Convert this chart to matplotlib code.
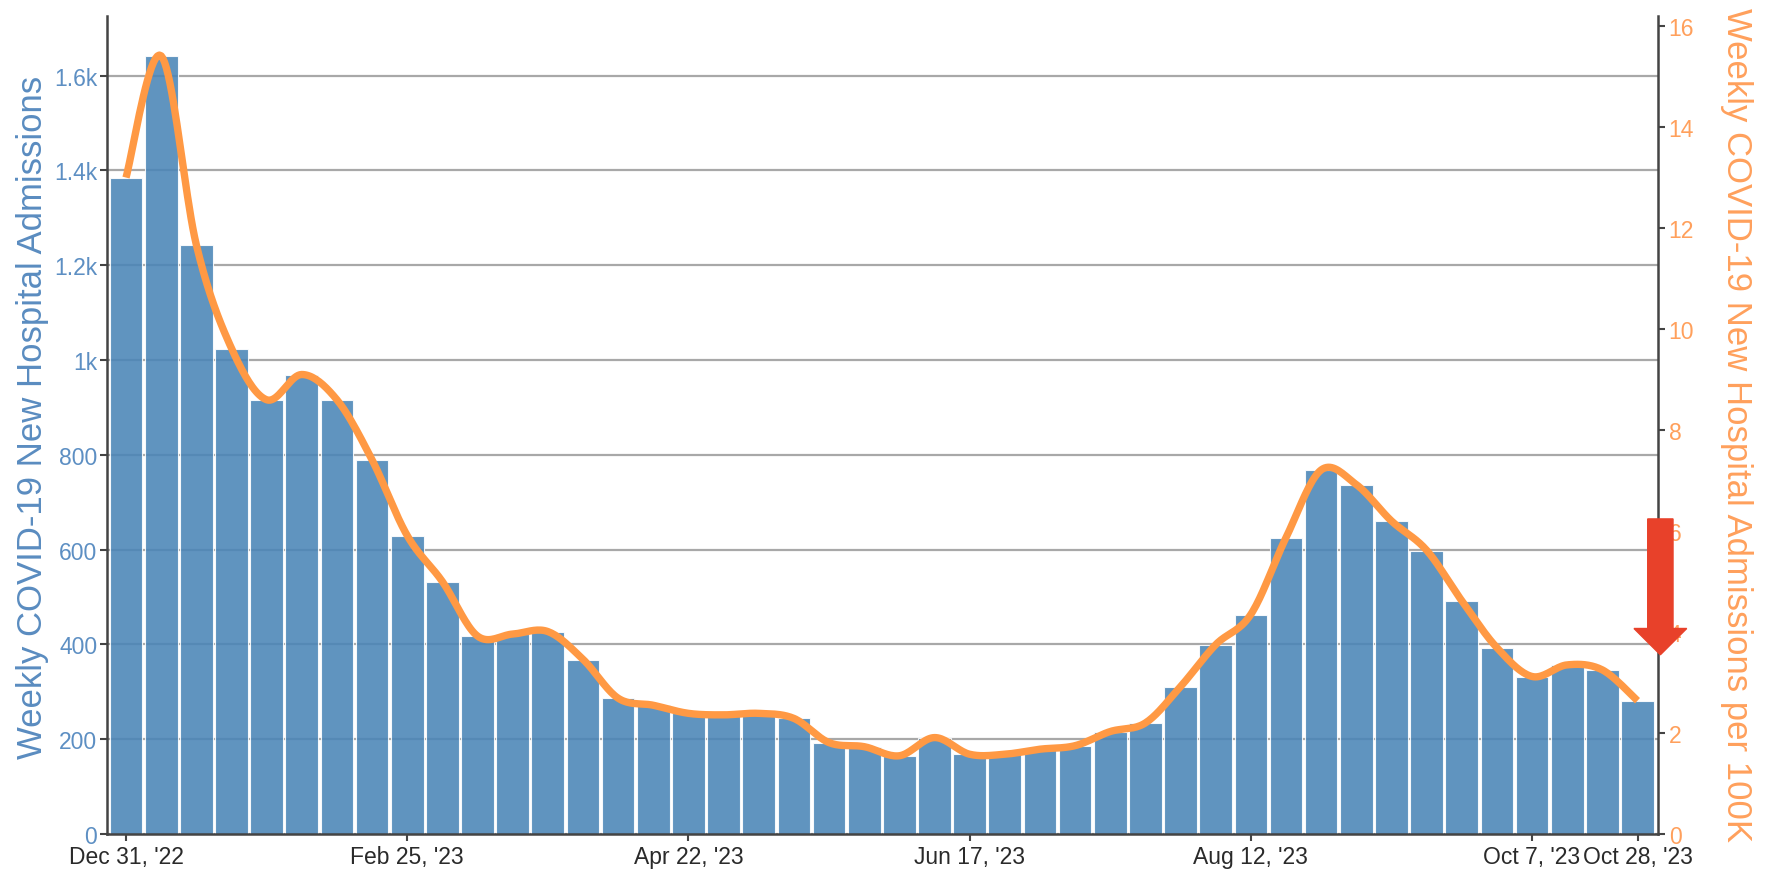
import numpy as np
import matplotlib
matplotlib.use("Agg")
import matplotlib.pyplot as plt
from matplotlib.patches import FancyArrow

# weekly admissions (bars, left axis)
admissions = [1385, 1641, 1243, 1024, 916, 969, 916, 789, 629, 532,
              418, 422, 427, 368, 286, 272, 255, 251, 255, 244,
              193, 184, 165, 203, 168, 168, 179, 186, 216, 234,
              311, 399, 463, 625, 768, 737, 660, 598, 492, 393,
              332, 357, 346, 281]

# admissions per 100K (line, right axis)
per_100k = [13.0, 15.41, 11.67, 9.62, 8.60, 9.10, 8.60, 7.41, 5.91, 5.00,
            3.92, 3.96, 4.01, 3.46, 2.69, 2.55, 2.39, 2.36, 2.39, 2.29,
            1.81, 1.73, 1.55, 1.91, 1.58, 1.58, 1.68, 1.75, 2.03, 2.20,
            2.92, 3.75, 4.35, 5.87, 7.21, 6.92, 6.20, 5.62, 4.62, 3.69,
            3.12, 3.35, 3.25, 2.64]

tick_idx = [0, 8, 16, 24, 32, 40, 43]
tick_labels = ["Dec 31, '22", "Feb 25, '23", "Apr 22, '23", "Jun 17, '23",
               "Aug 12, '23", "Oct 7, '23", "Oct 28, '23"]

left_ticks = [0, 200, 400, 600, 800, 1000, 1200, 1400, 1600]
left_labels = ["0", "200", "400", "600", "800", "1k", "1.2k", "1.4k", "1.6k"]
right_ticks = [0, 2, 4, 6, 8, 10, 12, 14, 16]

FONT = ["Liberation Sans", "DejaVu Sans"]


def smooth(x, y, n=20):
    # catmull-rom style curve through the points (just for drawing)
    x = np.asarray(x, float)
    y = np.asarray(y, float)
    px = np.concatenate([[x[0]], x, [x[-1]]])
    py = np.concatenate([[y[0]], y, [y[-1]]])
    xs, ys = [], []
    t = np.linspace(0, 1, n, endpoint=False)
    for i in range(1, len(px) - 2):
        p0, p1, p2, p3 = py[i-1], py[i], py[i+1], py[i+2]
        q0, q1, q2, q3 = px[i-1], px[i], px[i+1], px[i+2]
        ys.append(0.5 * (2*p1 + (-p0 + p2)*t + (2*p0 - 5*p1 + 4*p2 - p3)*t**2 + (-p0 + 3*p1 - 3*p2 + p3)*t**3))
        xs.append(0.5 * (2*q1 + (-q0 + q2)*t + (2*q0 - 5*q1 + 4*q2 - q3)*t**2 + (-q0 + 3*q1 - 3*q2 + q3)*t**3))
    xs.append([x[-1]])
    ys.append([y[-1]])
    return np.concatenate(xs), np.concatenate(ys)


x = np.arange(len(admissions))

fig = plt.figure(figsize=(17.69, 8.70), dpi=100)
ax = fig.add_axes([0.0605, 0.0402, 0.8765, 0.9403])
ax2 = ax.twinx()

ax.set_axisbelow(True)
ax.yaxis.grid(True, color="#a8a8a8", lw=1.6)
ax.bar(x, admissions, width=0.93, color="#4a85b7", alpha=0.88,
       edgecolor="white", lw=0.8, zorder=2)

sx, sy = smooth(x, per_100k)
ax2.plot(sx, sy, color="#ff9944", lw=5.3, solid_capstyle="butt", zorder=3)

ax.set_xlim(-0.54, 43.57)
ax.set_ylim(0, 1726)
ax2.set_ylim(0, 16.2)

ax.set_yticks(left_ticks)
ax.set_yticklabels(left_labels)
ax2.set_yticks(right_ticks)
ax.set_xticks(tick_idx)
ax.set_xticklabels(tick_labels, fontsize=16.5, color="#2a2a2a", family=FONT)

for a in (ax, ax2):
    for s in a.spines.values():
        s.set_visible(False)
for a, side in ((ax, "left"), (ax, "bottom"), (ax2, "right")):
    a.spines[side].set_visible(True)
    a.spines[side].set_color("#444444")
    a.spines[side].set_linewidth(1.8)

ax.tick_params(axis="y", length=5, width=1.5, color="#444444",
               labelsize=16.5, labelcolor="#5d8fc3", pad=2)
ax.tick_params(axis="x", length=5, width=1.5, color="#444444", pad=3)
ax2.tick_params(axis="y", length=5, width=1.5, color="#444444",
                labelsize=16.5, labelcolor="#ffa05c", pad=3)
for lab in ax.get_yticklabels() + ax2.get_yticklabels():
    lab.set_family(FONT)

fig.text(0.0185, 0.52, "Weekly COVID-19 New Hospital Admissions",
         rotation=90, ha="center", va="center", fontsize=25,
         color="#5a8cc0", family=FONT)
fig.text(0.9815, 0.511, "Weekly COVID-19 New Hospital Admissions per 100K",
         rotation=-90, ha="center", va="center", fontsize=25,
         color="#ffa05c", family=FONT)

# red arrow pointing down on the right axis
arr = FancyArrow(43.65, 6.24, 0, 3.55 - 6.24, width=0.72, head_width=1.5,
                 head_length=0.52, length_includes_head=True,
                 color="#e8412a", clip_on=False, zorder=5,
                 transform=ax2.transData)
ax2.add_patch(arr)

fig.savefig("out.png", dpi=100)
